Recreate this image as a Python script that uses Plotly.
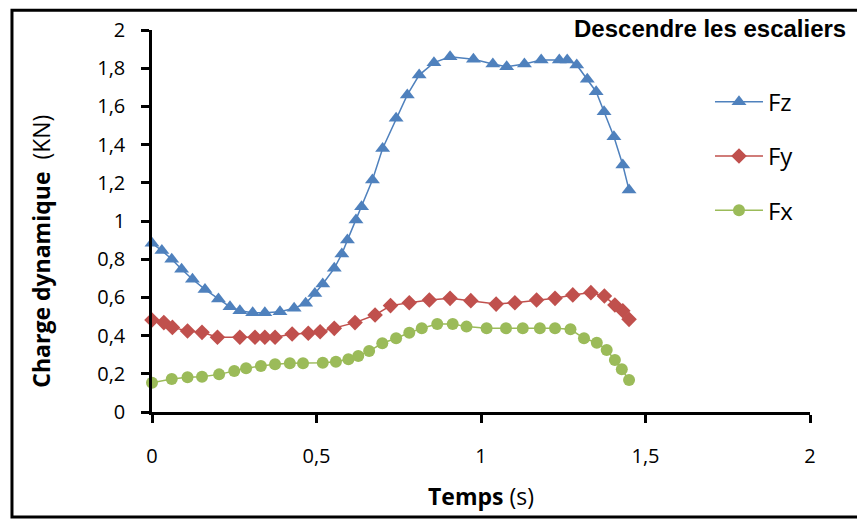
import plotly.graph_objects as go

# Time (s) and dynamic load (kN) for each component
t_fz = [0, 0.030, 0.060, 0.090, 0.123, 0.161, 0.202, 0.237, 0.267, 0.306, 0.343, 0.389, 0.432, 0.467,
        0.495, 0.519, 0.554, 0.577, 0.594, 0.620, 0.637, 0.670, 0.701, 0.742, 0.776, 0.812, 0.857, 0.906,
        0.977, 1.036, 1.078, 1.132, 1.183, 1.238, 1.262, 1.291, 1.323, 1.350, 1.374, 1.404, 1.431, 1.450]
fz = [0.883, 0.845, 0.80, 0.747, 0.695, 0.642, 0.592, 0.551, 0.530, 0.520, 0.520, 0.525, 0.543, 0.569,
      0.621, 0.670, 0.752, 0.827, 0.90, 1.005, 1.075, 1.215, 1.38, 1.538, 1.66, 1.764, 1.829, 1.860,
      1.847, 1.822, 1.808, 1.822, 1.843, 1.843, 1.843, 1.817, 1.742, 1.677, 1.572, 1.441, 1.293, 1.162]

t_fy = [0, 0.036, 0.062, 0.108, 0.152, 0.199, 0.267, 0.313, 0.343, 0.374, 0.426, 0.475, 0.511, 0.554,
        0.617, 0.678, 0.725, 0.782, 0.843, 0.906, 0.969, 1.046, 1.103, 1.169, 1.225, 1.279, 1.334, 1.375,
        1.407, 1.431, 1.450]
fy = [0.482, 0.468, 0.443, 0.424, 0.417, 0.391, 0.391, 0.391, 0.391, 0.391, 0.408, 0.412, 0.42, 0.438,
      0.468, 0.508, 0.557, 0.572, 0.586, 0.595, 0.583, 0.565, 0.572, 0.586, 0.595, 0.613, 0.625, 0.607,
      0.56, 0.530, 0.485]

t_fx = [0, 0.060, 0.108, 0.152, 0.204, 0.250, 0.286, 0.331, 0.374, 0.419, 0.459, 0.519, 0.559, 0.597,
        0.627, 0.660, 0.700, 0.742, 0.782, 0.820, 0.867, 0.914, 0.956, 1.017, 1.076, 1.127, 1.179, 1.225,
        1.272, 1.313, 1.352, 1.382, 1.407, 1.428, 1.450]
fx = [0.153, 0.173, 0.182, 0.185, 0.197, 0.215, 0.229, 0.241, 0.250, 0.255, 0.255, 0.258, 0.263, 0.276,
      0.293, 0.319, 0.36, 0.386, 0.415, 0.438, 0.461, 0.461, 0.447, 0.438, 0.438, 0.438, 0.438, 0.438,
      0.433, 0.386, 0.363, 0.325, 0.272, 0.224, 0.168]

x_ticks = [0, 0.5, 1, 1.5, 2]
y_ticks = [0, 0.2, 0.4, 0.6, 0.8, 1, 1.2, 1.4, 1.6, 1.8, 2]

FONT = "Open Sans"
TICK_FONT = dict(family=FONT, size=20, color="black")

fig = go.Figure()
series = [
    ("Fz", t_fz, fz, "#4F81BD", "triangle-up", 13),
    ("Fy", t_fy, fy, "#C0504D", "diamond", 12),
    ("Fx", t_fx, fx, "#9BBB59", "circle", 12),
]
for name, tx, vy, col, sym, sz in series:
    fig.add_trace(go.Scatter(
        x=tx, y=vy, name=name, mode="lines+markers", legendgroup=name,
        line=dict(color=col, width=1.5),
        marker=dict(symbol=sym, size=sz, color=col),
        cliponaxis=False,
    ))

fig.update_layout(
    width=857, height=520, autosize=False,
    margin=dict(l=152, r=47, t=30, b=108),
    paper_bgcolor="white", plot_bgcolor="white",
    separators=", ",
    showlegend=True,
    legend=dict(x=0.848, y=0.87, xanchor="left", yanchor="top",
                font=dict(family=FONT, size=24, color="black"),
                bgcolor="rgba(0,0,0,0)", traceorder="grouped", tracegroupgap=20,
                itemwidth=48),
    xaxis=dict(range=[0, 2], tickvals=x_ticks, showgrid=False, zeroline=False,
               showline=True, linecolor="black", linewidth=2.5,
               ticks="outside", ticklen=8, tickwidth=2.5, tickcolor="black",
               tickfont=TICK_FONT, ticklabelstandoff=16),
    yaxis=dict(range=[0, 2], tickvals=y_ticks, showgrid=False, zeroline=False,
               showline=True, linecolor="black", linewidth=2.5,
               ticks="outside", ticklen=8, tickwidth=2.5, tickcolor="black",
               tickfont=TICK_FONT, ticklabelstandoff=12),
    annotations=[
        dict(text="<b>Descendre les escaliers</b>", x=1.058, y=1.005, xref="paper", yref="paper",
             xanchor="right", yanchor="middle", showarrow=False,
             font=dict(family="Liberation Sans", size=24, color="black")),
        dict(text="<b>Temps</b> (s)", x=0.5, y=-0.22, xref="paper", yref="paper",
             xanchor="center", yanchor="middle", showarrow=False,
             font=dict(family=FONT, size=23, color="black")),
        dict(text="<b>Charge dynamique</b>  (KN)", x=-0.170, y=0.42, xref="paper", yref="paper",
             xanchor="center", yanchor="middle", showarrow=False, textangle=-90,
             font=dict(family=FONT, size=23, color="black")),
    ],
    shapes=[
        dict(type="rect", xref="paper", yref="paper", x0=-0.2128, x1=1.095, y0=-0.275, y1=1.052,
             line=dict(color="black", width=3), fillcolor="rgba(0,0,0,0)", layer="below"),
    ],
)

fig.write_html("out.html")
